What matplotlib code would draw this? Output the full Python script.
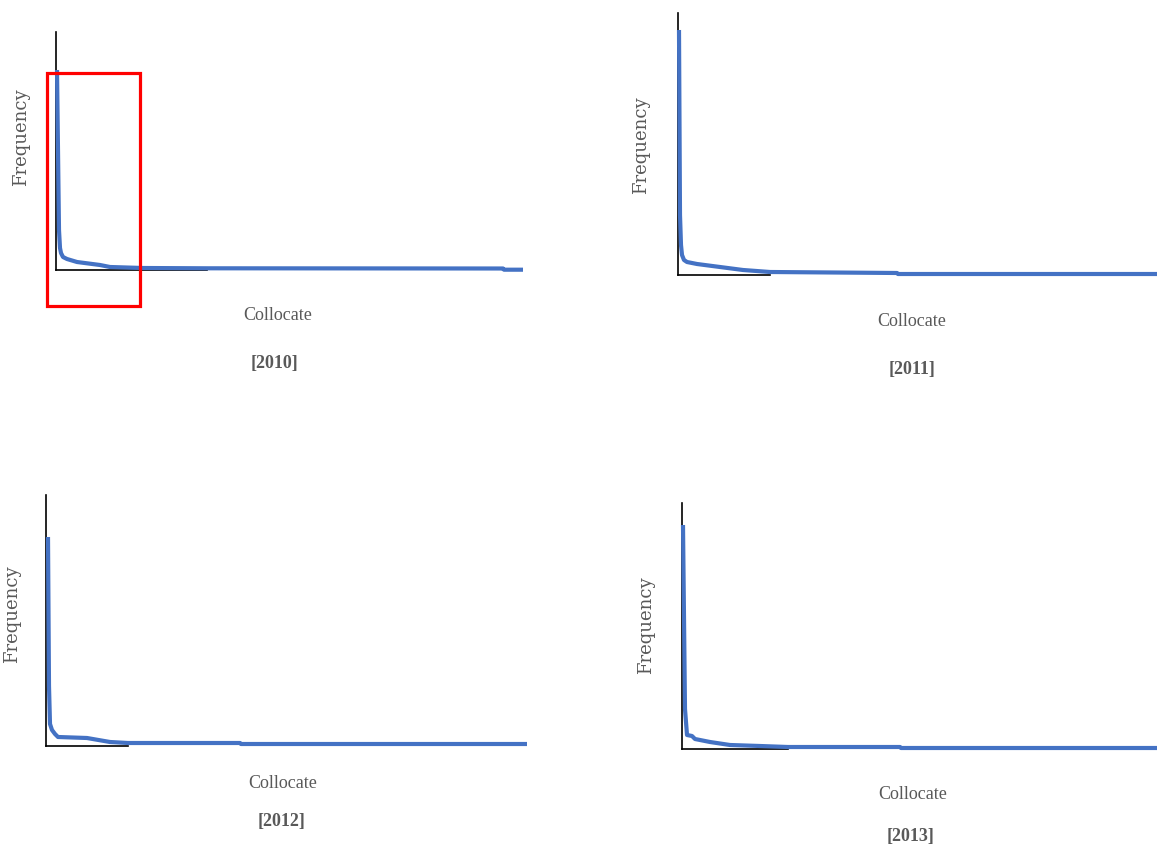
import matplotlib
matplotlib.use("Agg")
import matplotlib.pyplot as plt
from matplotlib.patches import Rectangle

W, H = 1157, 846

# ---- data (collocate rank vs. frequency, arbitrary units) ----
years = ["[2010]", "[2011]", "[2012]", "[2013]"]

rank_2010 = [1, 3, 4, 5, 7, 11, 21, 44, 54, 87, 151, 447, 448, 467]
freq_2010 = [200, 40, 22, 17, 13, 11, 8, 5, 3, 2, 1.7, 1.5, 0.3, 0.3]

rank_2011 = [1, 2, 3, 4, 6, 9, 19, 42, 65, 92, 219, 220, 479]
freq_2011 = [245, 60, 30, 20, 15, 13, 11, 8, 5, 3, 2, 1, 1]

rank_2012 = [2, 3, 4, 6, 9, 12, 41, 64, 82, 194, 195, 481]
freq_2012 = [209, 60, 22, 16, 12, 9, 8, 4, 3, 3, 2, 2]

rank_2013 = [1, 3, 5, 10, 13, 28, 48, 78, 106, 218, 219, 475]
freq_2013 = [224, 40, 14, 13, 10, 7, 4, 3, 2, 2, 1, 1]

ranks = [rank_2010, rank_2011, rank_2012, rank_2013]
freqs = [freq_2010, freq_2011, freq_2012, freq_2013]

x_label = "Collocate"
y_label = "Frequency"

# ---- layout (pixels) ----
panels = [
    dict(left=56, bottom=270, top=32, right=523, xmax=467, spine_end=151, ymax=238,
         ylab=(21, 137), xlab=(278, 316), year=(275, 363)),
    dict(left=678, bottom=275, top=13, right=1157, xmax=479, spine_end=92, ymax=262,
         ylab=(641, 145), xlab=(912, 322), year=(912, 369)),
    dict(left=46, bottom=746, top=495, right=527, xmax=481, spine_end=82, ymax=251,
         ylab=(12, 614), xlab=(283, 783), year=(282, 821)),
    dict(left=682, bottom=749, top=503, right=1157, xmax=475, spine_end=106, ymax=246,
         ylab=(646, 625), xlab=(913, 794), year=(911, 836)),
]

line_color = "#4472C4"
text_color = "#595959"

fig = plt.figure(figsize=(W / 100, H / 100), dpi=100)
fig.patch.set_facecolor("white")

for p, r, f, yr in zip(panels, ranks, freqs, years):
    ax = fig.add_axes([p["left"] / W, 1 - p["bottom"] / H,
                       (p["right"] - p["left"]) / W, (p["bottom"] - p["top"]) / H])
    ax.set_xlim(0, p["xmax"])
    ax.set_ylim(0, p["ymax"])
    ax.set_facecolor("none")
    ax.plot(r, f, color=line_color, lw=3.0, solid_joinstyle="round",
            solid_capstyle="butt", clip_on=False, zorder=3)
    for s in ["top", "right"]:
        ax.spines[s].set_visible(False)
    ax.spines["left"].set_color("black")
    ax.spines["bottom"].set_color("black")
    ax.spines["left"].set_linewidth(1.2)
    ax.spines["bottom"].set_linewidth(1.2)
    ax.spines["bottom"].set_bounds(0, p["spine_end"])
    ax.set_xticks([])
    ax.set_yticks([])

    fig.text(p["ylab"][0] / W, 1 - p["ylab"][1] / H, y_label, rotation=90,
             ha="center", va="center", color=text_color, fontsize=13,
             family="DejaVu Serif")
    fig.text(p["xlab"][0] / W, 1 - p["xlab"][1] / H, x_label,
             ha="center", va="center", color=text_color, fontsize=13,
             family="Liberation Serif")
    fig.text(p["year"][0] / W, 1 - p["year"][1] / H, yr,
             ha="center", va="center", color=text_color, fontsize=13,
             family="Liberation Serif", fontweight="bold")

# red highlight box on the first panel
fig.patches.append(Rectangle((47 / W, 1 - 306 / H), (140 - 47) / W, (306 - 73) / H,
                             transform=fig.transFigure, fill=False,
                             edgecolor="#FF0000", lw=2.3, zorder=5))

fig.savefig("out.png", dpi=100)
